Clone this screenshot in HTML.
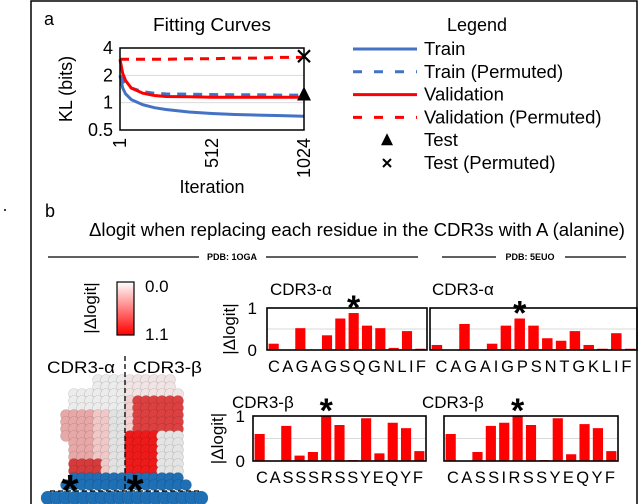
<!DOCTYPE html>
<html><head><meta charset="utf-8"><style>
html,body{margin:0;padding:0;background:#fff;}
svg{display:block;font-family:"Liberation Sans",Arial,sans-serif;}
</style></head><body>
<svg id="fig" width="640" height="504" viewBox="0 0 640 504">
<rect x="31" y="1" width="606" height="520" fill="none" stroke="#000" stroke-width="1.5"/>
<circle cx="5" cy="210" r="1" fill="#000"/>
<text x="44" y="25" font-size="18">a</text>
<text x="212" y="31" font-size="18" text-anchor="middle" textLength="118" lengthAdjust="spacingAndGlyphs">Fitting Curves</text>
<g id="lineChart"></g>
<g id="legend">
<text x="477" y="31" font-size="18" text-anchor="middle">Legend</text>
</g>
<text x="45" y="217" font-size="18">b</text>
<text x="357" y="236" font-size="18" text-anchor="middle" textLength="536" lengthAdjust="spacingAndGlyphs">Δlogit when replacing each residue in the CDR3s with A (alanine)</text>
<g>
<line x1="48" y1="257" x2="199" y2="257" stroke="#000" stroke-width="1.3"/>
<text x="232" y="260" font-size="9" font-weight="bold" text-anchor="middle">PDB: 1OGA</text>
<line x1="266" y1="257" x2="418" y2="257" stroke="#000" stroke-width="1.3"/>
</g>
<g>
<line x1="442" y1="257" x2="496" y2="257" stroke="#000" stroke-width="1.3"/>
<text x="530" y="260" font-size="9" font-weight="bold" text-anchor="middle">PDB: 5EUO</text>
<line x1="565" y1="257" x2="626" y2="257" stroke="#000" stroke-width="1.3"/>
</g>
<g>
<defs><linearGradient id="cb" x1="0" y1="0" x2="0" y2="1"><stop offset="0" stop-color="#fff"/><stop offset="1" stop-color="#f00"/></linearGradient></defs>
<rect x="117" y="282" width="17" height="53" fill="url(#cb)" stroke="#000" stroke-width="1.2"/>
<text x="145" y="292" font-size="17">0.0</text>
<text x="145" y="340" font-size="17">1.1</text>
<text transform="translate(96,308) rotate(-90)" font-size="17" text-anchor="middle">|Δlogit|</text>
<text x="47" y="373" font-size="17" textLength="68" lengthAdjust="spacingAndGlyphs">CDR3-α</text>
<text x="133" y="373" font-size="17" textLength="69" lengthAdjust="spacingAndGlyphs">CDR3-β</text>
<g id="blob"></g>
<line x1="125" y1="356" x2="125" y2="492" stroke="#000" stroke-width="1.3" stroke-dasharray="5,3"/>
<line x1="50" y1="491" x2="200" y2="491" stroke="#000" stroke-width="1.3" stroke-dasharray="5,3"/>
<text x="70" y="505" font-size="44" font-weight="bold" text-anchor="middle">*</text>
<text x="135" y="505" font-size="44" font-weight="bold" text-anchor="middle">*</text>
</g>
<g id="bars"></g>
<script>
const NS="http://www.w3.org/2000/svg";
function mk(tag,attrs,parent){const e=document.createElementNS(NS,tag);for(const k in attrs)e.setAttribute(k,attrs[k]);parent.appendChild(e);return e;}
// ===== Line chart data =====
const iterTicks=[1,512,1024];
const klTicks=[0.5,1,2,4];
const iters=[1,16,32,64,128,192,256,384,512,640,768,896,1024];
const trainKL=[2.0,1.45,1.25,1.08,0.95,0.88,0.84,0.79,0.76,0.74,0.73,0.72,0.71];
const trainPermKL=[2.0,1.75,1.6,1.45,1.32,1.27,1.25,1.24,1.23,1.22,1.22,1.21,1.21];
const valKL=[3.0,2.1,1.75,1.45,1.27,1.2,1.17,1.16,1.15,1.15,1.15,1.15,1.15];
const valPermKL=[3.0,3.0,3.0,3.0,3.0,3.0,3.0,3.05,3.05,3.1,3.1,3.15,3.15];
const testKL=[1.2];
const testPermKL=[3.25];
const lc=document.getElementById('lineChart');
const X0=120,X1=304,Y0=130,Y1=48;
const xs=v=>X0+(v-1)/(1023)*(X1-X0);
const ys=v=>Y0-(Math.log2(v)+1)/3*(Y0-Y1);
klTicks.forEach(t=>{
  if(t===1||t===2){const g=mk('line',{x1:X0,x2:X1,y1:ys(t),y2:ys(t),stroke:'#d9d9d9','stroke-width':1},lc);
  
  }
  const tx=mk('text',{x:113,y:ys(t)+6,'font-size':18,'text-anchor':'end'},lc);tx.textContent=t;
  
  
});
iterTicks.forEach(t=>{
  const tx=mk('text',{transform:`translate(${xs(t)+6},${138}) rotate(-90)`,'font-size':18,'text-anchor':'end'},lc);tx.textContent=t;
  
  
});
const yl=mk('text',{transform:'translate(72,89) rotate(-90)','font-size':18,'text-anchor':'middle'},lc);yl.textContent='KL (bits)';


const xl=mk('text',{x:212,y:193,'font-size':18,'text-anchor':'middle'},lc);xl.textContent='Iteration';


function series(vals,color,dash,name){
  let d='';vals.forEach((v,i)=>{d+=(i?'L':'M')+xs(iters[i]).toFixed(1)+','+ys(v).toFixed(1);});
  const p=mk('path',{d:d,fill:'none',stroke:color,'stroke-width':3,'stroke-dasharray':dash||'none'},lc);
  
  
}
series(trainKL,'#4472c4','', 'train-line');
series(trainPermKL,'#4472c4','9,7','train-permuted-line');
series(valKL,'#ff0000','', 'validation-line');
series(valPermKL,'#ff0000','9,7','validation-permuted-line');
const fr=mk('rect',{x:X0,y:Y1,width:X1-X0,height:Y0-Y1,fill:'none',stroke:'#000','stroke-width':1.5},lc);


{const x=xs(1024),y=ys(testKL[0]);
 const t=mk('polygon',{points:`${x},${y-9} ${x-7},${y+5} ${x+7},${y+5}`,fill:'#000'},lc);
 
 
 const y2=ys(testPermKL[0]);
 const c=mk('path',{d:`M${x-6},${y2-6}L${x+6},${y2+6}M${x-6},${y2+6}L${x+6},${y2-6}`,stroke:'#000','stroke-width':2.2},lc);
 
 }
// legend
const lg=document.getElementById('legend');
const entries=[['Train','#4472c4','','line'],['Train (Permuted)','#4472c4','9,12','line'],['Validation','#ff0000','','line'],['Validation (Permuted)','#ff0000','9,12','line'],['Test','#000','','tri'],['Test (Permuted)','#000','','x']];
entries.forEach((e,i)=>{
  const y=49+i*22.8;
  const g=mk('g',{},lg);
  
  
  if(e[3]==='line')mk('line',{x1:353,x2:417,y1:y,y2:y,stroke:e[1],'stroke-width':3,'stroke-dasharray':e[2]||'none'},g);
  else if(e[3]==='tri')mk('polygon',{points:`387,${y-7} 381,${y+5} 393,${y+5}`,fill:'#000'},g);
  else mk('path',{d:`M383,${y-4}L391,${y+4}M383,${y+4}L391,${y-4}`,stroke:'#000','stroke-width':2},g);
  const t=mk('text',{x:424,y:y+6,'font-size':18.5},g);t.textContent=e[0];
});
// ===== Bar chart data =====
const seqA1=['C','A','G','A','G','S','Q','G','N','L','I','F'];
const valA1=[0.15,0,0.52,0,0.35,0.75,0.88,0.58,0.52,0.05,0.45,0.03];
const seqA2=['C','A','G','A','I','G','P','S','N','T','G','K','L','I','F'];
const valA2=[0.12,0,0.62,0,0.15,0.58,0.75,0.58,0.28,0.22,0.45,0.12,0.03,0.4,0.03];
const seqB1=['C','A','S','S','S','R','S','S','Y','E','Q','Y','F'];
const valB1=[0.6,0,0.78,0.12,0.2,1.0,0.8,0.02,0.95,0.17,0.85,0.73,0.22];
const seqB2=['C','A','S','S','I','R','S','S','Y','E','Q','Y','F'];
const valB2=[0.6,0,0.2,0.78,0.85,1.0,0.8,0.02,0.95,0.15,0.82,0.73,0.22];
const barTicks=[0,1];
const starA1=6,starA2=6,starB1=5,starB2=5;
const bg=document.getElementById('bars');
function barChart(name,seq,vals,star,x0,x1,y0,y1,title,tx,ty,axis,axX,letterW){
  const g=mk('g',{},bg);
  
  
  const yv=v=>y0-v*(y0-y1);
  const slot=(x1-x0)/seq.length;
  const gl=mk('line',{x1:x0,x2:x1,y1:yv(0.5),y2:yv(0.5),stroke:'#d9d9d9','stroke-width':1},g);
  
  
  vals.forEach((v,i)=>{
    const r=mk('rect',{x:x0+i*slot+slot*0.12,y:yv(v),width:slot*0.76,height:y0-yv(v),fill:'#ff0000'},g);
    
    
  });
  const fr=mk('rect',{x:x0,y:y1,width:x1-x0,height:y0-y1,fill:'none',stroke:'#000','stroke-width':1.6},g);
  
  
  const st=mk('text',{x:x0+(star+0.5)*slot,y:yv(vals[star])+6,'font-size':34,'font-weight':'bold','text-anchor':'middle'},g);
  st.textContent='*';
  
  
  const t=mk('text',{x:tx,y:ty,'font-size':17},g);t.textContent=title;
  
  
  const lt=mk('text',{x:(x0+x1)/2,y:y0+22,'font-size':16.5,'text-anchor':'middle','textLength':letterW,lengthAdjust:'spacing'},g);lt.textContent=seq.join('');
  
  
  if(axis){
    barTicks.forEach(tk=>{
      const a=mk('text',{x:axX,y:yv(tk)+6,'font-size':17,'text-anchor':'end'},g);a.textContent=tk;
      
      
    });
    const yt=mk('text',{transform:`translate(${axX-22},${(y0+y1)/2}) rotate(-90)`,'font-size':17,'text-anchor':'middle'},g);yt.textContent='|Δlogit|';
    
    
  }
}
barChart('bar-chart-1oga-alpha',seqA1,valA1,starA1,267,427,350,308,'CDR3-α',270,295,true,257,158);
barChart('bar-chart-5euo-alpha',seqA2,valA2,starA2,430,637,350,308,'CDR3-α',432,295,false,0,196);
barChart('bar-chart-1oga-beta',seqB1,valB1,starB1,253,426,461,416,'CDR3-β',232,408,true,245,167);
barChart('bar-chart-5euo-beta',seqB2,valB2,starB2,444,618,461,416,'CDR3-β',422,408,false,0,168);
// ===== molecule blob (illustration, decorative) =====
const bl=document.getElementById('blob');
function inBlob(x,y){
  if(y<378||y>488)return false;
  if(y<392) return x>95&&x<172;
  if(y<410) return x>70&&x<180;
  if(y<440) return x>64&&x<184;
  return x>66&&x<182;
}
function colorAt(x,y){
  if(y>476) return '#1f6fb5';
  if(x<125){
    if(y<415) return '#ececec';
    if(y>458&&x<100) return '#d63a3a';
    if(x<95&&y<458) return '#e8a8a8';
    if(x>108) return '#e2e2e2';
    return '#f0c8c8';
  } else {
    if(y<398) return '#f0e4e4';
    if(y<435 && x>135) return '#dd4040';
    if(y>=435 && x<160) return '#ee1a1a';
    if(x>160) return '#e4e4e4';
    return '#f2d0d0';
  }
}
for(let y=380;y<=490;y+=7){
  for(let x=62;x<=186;x+=8){
    const xx=x+((y/7)%2?4:0);
    if(!inBlob(xx,y) && !(y>478 && xx>50 && xx<200)) continue;
    mk('circle',{cx:xx,cy:y,r:5.5,fill:colorAt(xx,y),stroke:'rgba(0,0,0,0.15)','stroke-width':0.6},bl);
  }
}
for(let x=48;x<=202;x+=9){mk('circle',{cx:x,cy:498,r:7,fill:'#1f6fb5',stroke:'rgba(0,0,0,0.15)','stroke-width':0.6},bl);}
</script>
</svg>
</body></html>
